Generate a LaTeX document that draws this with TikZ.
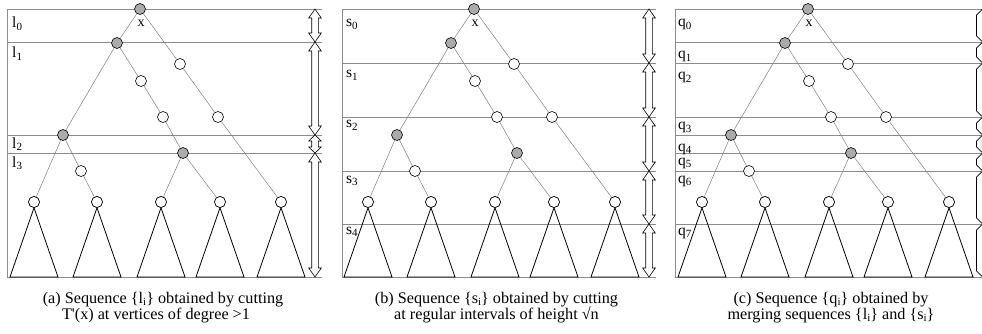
\documentclass[tikz,border=0pt]{standalone}
\usepackage{fontspec}
\setmainfont{Liberation Serif}
\usetikzlibrary{calc}
\newcommand\mysub[1]{\raisebox{-0.35ex}{\fontsize{11}{11}\selectfont #1}}
\newcommand\dblarr[4]{%
  \draw[arr] (#1,#2) -- ++(6.3,#4) -- ++(-3,0) -- (#1+3.3,#3-#4) -- ++(3,0)
    -- (#1,#3) -- ++(-6.3,-#4) -- ++(3,0) -- (#1-3.3,#2+#4) -- ++(-3,0) -- cycle;}
\newcommand\brk[2]{\draw[brc] (982,#1+0.5) -- (976.5,#1+6) -- (976.5,#2-6) -- (982,#2-0.5);}
\tikzset{
  frame/.style={draw=black!45, line width=0.7pt},
  edge/.style={draw=black!50, line width=0.5pt},
  tri/.style={draw=black, line width=0.8pt},
  wn/.style={circle, draw=black, line width=0.6pt, fill=white, minimum size=11pt, inner sep=0pt},
  gn/.style={wn, fill=black!33},
  arr/.style={draw=black, line width=0.6pt, fill=white},
  brc/.style={draw=black, line width=0.7pt},
  lab/.style={anchor=base west, inner sep=0pt, font=\fontsize{15.5}{16}\selectfont},
  captxt/.style={anchor=base, inner sep=0pt, font=\fontsize{16.2}{16}\selectfont},
}
\begin{document}
\begin{tikzpicture}[x=1pt,y=-1pt]
\useasboundingbox (0,0) rectangle (982,334);
\clip (0,0) rectangle (982,334);
% frames
\draw[frame] (7,9) -- (7,277);
\foreach \y in {9,42,135,153,277} \draw[frame] (7,\y) -- (322,\y);
\draw[frame] (342,9) -- (342,277);
\foreach \y in {9,63,117,171,224,277} \draw[frame] (342,\y) -- (656,\y);
\draw[frame] (675,9) -- (675,277);
\foreach \y in {9,42,63,117,135,153,171,224,277} \draw[frame] (675,\y) -- (991,\y);
% trees
\foreach \p/\dx in {a/0,b/334,c/668}{
\begin{scope}[xshift=\dx pt]
  \node[gn] (\p r) at (140,9) {};
  \node[gn] (\p u) at (117,43) {};
  \node[wn] (\p v1) at (180,64) {};
  \node[wn] (\p v2) at (218,117) {};
  \node[wn] (\p w1) at (141,81) {};
  \node[wn] (\p w2) at (163,117) {};
  \node[gn] (\p g) at (183,153) {};
  \node[gn] (\p h) at (63,135) {};
  \node[wn] (\p k) at (81,171) {};
  \node[wn] (\p L1) at (34,202) {};
  \node[wn] (\p L2) at (97,202) {};
  \node[wn] (\p L3) at (161,202) {};
  \node[wn] (\p L4) at (220,202) {};
  \node[wn] (\p L5) at (281,202) {};
  \node[inner sep=0pt, font=\fontsize{14}{14}\selectfont] (\p x) at (141,23) {x};
  \draw[edge] (\p r) -- (\p u);
  \draw[edge] (\p r) -- (\p v1);
  \draw[edge] (\p v1) -- (\p v2);
  \draw[edge] (\p v2) -- (\p L5);
  \draw[edge] (\p u) -- (\p h);
  \draw[edge] (\p u) -- (\p w1);
  \draw[edge] (\p w1) -- (\p w2);
  \draw[edge] (\p w2) -- (\p g);
  \draw[edge] (\p g) -- (\p L3);
  \draw[edge] (\p g) -- (\p L4);
  \draw[edge] (\p h) -- (\p L1);
  \draw[edge] (\p h) -- (\p k);
  \draw[edge] (\p k) -- (\p L2);
  \foreach \t in {L1,L2,L3,L4,L5}
    \draw[tri] (\p\t.south) -- ($(\p\t.center)+(-24,75)$) -- ++(48,0) -- cycle;
  \foreach \t in {L1,L2,L3,L4,L5}
    \node[wn] at (\p\t) {};
\end{scope}
}
% arrows (a)
\dblarr{315}{9}{42}{9}
\dblarr{315}{42}{135}{9}
\dblarr{315}{135}{153}{6}
\dblarr{315}{153}{277}{9}
% arrows (b)
\dblarr{649}{9}{63}{9}
\dblarr{649}{63}{117}{9}
\dblarr{649}{117}{171}{9}
\dblarr{649}{171}{224}{9}
\dblarr{649}{224}{277}{9}
% braces (c)
\brk{9}{42}\brk{42}{63}\brk{63}{117}\brk{117}{135}
\brk{135}{153}\brk{153}{171}\brk{171}{224}\brk{224}{277}
% labels
\node[lab] (l0) at (12,28) {l\mysub{0}};
\node[lab] (l1) at (12,58) {l\mysub{1}};
\node[lab] (l2) at (12,148) {l\mysub{2}};
\node[lab] (l3) at (12,167) {l\mysub{3}};
\node[lab] (s0) at (346,27) {s\mysub{0}};
\node[lab] (s1) at (346,78) {s\mysub{1}};
\node[lab] (s2) at (346,128) {s\mysub{2}};
\node[lab] (s3) at (346,183) {s\mysub{3}};
\node[lab] (s4) at (346,234) {s\mysub{4}};
\node[lab] (q0) at (678,27) {q\mysub{0}};
\node[lab] (q1) at (678,59) {q\mysub{1}};
\node[lab] (q2) at (678,80) {q\mysub{2}};
\node[lab] (q3) at (678,130) {q\mysub{3}};
\node[lab] (q4) at (678,151) {q\mysub{4}};
\node[lab] (q5) at (678,165) {q\mysub{5}};
\node[lab] (q6) at (678,183) {q\mysub{6}};
\node[lab] (q7) at (678,235) {q\mysub{7}};
% captions
\node[captxt] (ca1) at (163,303) {(a) Sequence \{l\mysub{i}\} obtained by cutting};
\node[captxt] (ca2) at (156,319) {T\textquotesingle(x) at vertices of degree >1};
\node[captxt] (cb1) at (496.5,303) {(b) Sequence \{s\mysub{i}\} obtained by cutting};
\node[captxt] (cb2) at (496.5,319) {at regular intervals of height √n};
\node[captxt] (cc1) at (831,303) {(c) Sequence \{q\mysub{i}\} obtained by};
\node[captxt] (cc2) at (831,319) {merging sequences \{l\mysub{i}\} and \{s\mysub{i}\}};
\end{tikzpicture}
\end{document}
